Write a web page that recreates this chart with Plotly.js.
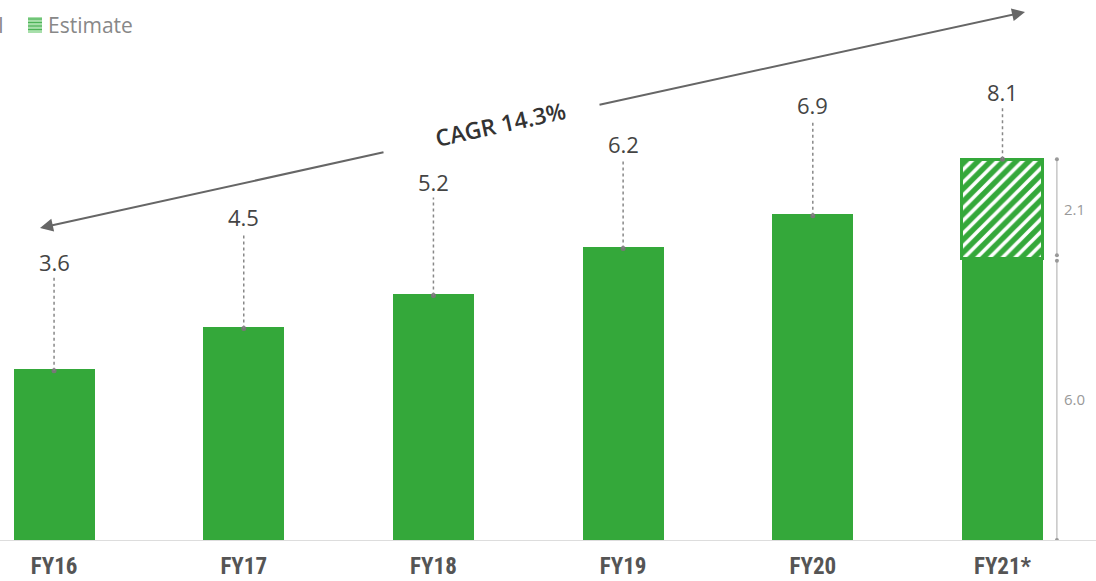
<!DOCTYPE html>
<html><head><meta charset="utf-8">
<script src="https://cdn.plot.ly/plotly-3.0.1.min.js"></script>
<style>html,body{margin:0;padding:0;background:#fff}#c{width:1096px;height:581px}</style>
</head><body><div id="c"></div>
<script>
const categories = ["FY16","FY17","FY18","FY19","FY20","FY21*"];
const totals = [3.6, 4.5, 5.2, 6.2, 6.9, 8.1];
const actual = [3.6, 4.5, 5.2, 6.2, 6.9, 6.0];
const estimate = [0, 0, 0, 0, 0, 2.1];
const cagrText = "CAGR 14.3%";

const GREEN = "#34a83a";
const xs = categories.map((c,i)=>i);
// label offset above the bar top, in pixels (layout only)
const labelOffsetPx = [109,112,114,105,111,67];
const bracketX = 5.287;

const traces = [
  {type:"bar", x:xs, y:actual, width:0.427, marker:{color:GREEN, line:{width:0}}, name:"Actual", showlegend:false, hoverinfo:"skip"},
  {type:"bar", x:xs, y:estimate, width:0.427, name:"Estimate", showlegend:false, hoverinfo:"skip",
   marker:{color:GREEN, line:{color:GREEN, width:3},
     pattern:{shape:"/", fillmode:"replace", bgcolor:GREEN, fgcolor:"#ffffff", size:9, solidity:0.4}}},
  {type:"scatter", mode:"markers", x:xs, y:totals, marker:{color:"#777", size:5}, showlegend:false, hoverinfo:"skip"},
  // right bracket
  {type:"scatter", mode:"lines+markers", x:[bracketX,bracketX], y:[0, actual[5]-0.06], line:{color:"#aaa", width:1}, marker:{color:"#999", size:4}, showlegend:false, hoverinfo:"skip"},
  {type:"scatter", mode:"lines+markers", x:[bracketX,bracketX], y:[actual[5]+0.06, totals[5]], line:{color:"#aaa", width:1}, marker:{color:"#999", size:4}, showlegend:false, hoverinfo:"skip"}
];

const shapes = [];
const annotations = [];
totals.forEach((v,i)=>{
  shapes.push({type:"line", xref:"x", yref:"y", ysizemode:"pixel", yanchor:v, x0:i, x1:i, y0:0, y1:labelOffsetPx[i]-16,
    line:{color:"#888", width:1.5, dash:"dot"}});
  annotations.push({x:i, y:v, xref:"x", yref:"y", yshift:labelOffsetPx[i], text:v.toFixed(1), showarrow:false,
    font:{family:"Open Sans, sans-serif", size:22, color:"#444"}, xanchor:"center", yanchor:"middle"});
});
// bracket labels
annotations.push({x:bracketX, y:actual[5]+estimate[5]/2, xref:"x", yref:"y", xshift:18, text:estimate[5].toFixed(1), showarrow:false,
  xanchor:"center", yanchor:"middle", font:{family:"Open Sans, sans-serif", size:15, color:"#999"}});
annotations.push({x:bracketX, y:actual[5]/2, xref:"x", yref:"y", xshift:18, text:actual[5].toFixed(1), showarrow:false,
  xanchor:"center", yanchor:"middle", font:{family:"Open Sans, sans-serif", size:15, color:"#999"}});
// CAGR arrows
annotations.push({xref:"paper", yref:"paper", x:40/1096, y:1-228/540, ax:345, ay:-76, text:"", showarrow:true,
  arrowhead:2, arrowsize:1.3, arrowwidth:2, arrowcolor:"#666"});
annotations.push({xref:"paper", yref:"paper", x:1025/1096, y:1-12/540, ax:-427, ay:93, text:"", showarrow:true,
  arrowhead:2, arrowsize:1.3, arrowwidth:2, arrowcolor:"#666"});
annotations.push({xref:"paper", yref:"paper", x:500/1096, y:1-124/540, xanchor:"center", yanchor:"middle",
  text:cagrText, showarrow:false, textangle:-12.4,
  font:{family:"Open Sans, sans-serif", size:23, color:"#333", weight:600}});
// legend
annotations.push({xref:"paper", yref:"paper", x:6/1096, y:1-25/540, xanchor:"right", yanchor:"middle", text:"Actual", showarrow:false,
  font:{family:"Open Sans, sans-serif", size:21, color:"#888"}});
annotations.push({xref:"paper", yref:"paper", x:46/1096, y:1-25/540, xanchor:"left", yanchor:"middle", text:"Estimate", showarrow:false,
  font:{family:"Open Sans, sans-serif", size:21, color:"#888"}});
shapes.push({type:"rect", xref:"paper", yref:"paper", x0:28/1096, x1:42/1096, y0:1-33/540, y1:1-17/540, fillcolor:"#a8dfab", line:{width:0}});
[19,22.5,26,29.5].forEach(py=>shapes.push({type:"line", xref:"paper", yref:"paper", x0:28/1096, x1:42/1096, y0:1-py/540, y1:1-py/540, line:{color:"#4cb257", width:1.2}}));

const layout = {
  width:1096, height:581, margin:{l:0,r:0,t:0,b:41},
  paper_bgcolor:"#fff", plot_bgcolor:"#fff",
  barmode:"stack", showlegend:false,
  xaxis:{range:[-0.285,5.493], tickvals:xs, ticktext:categories, showgrid:false, zeroline:false,
    showline:true, linecolor:"#ddd", linewidth:1, ticks:"outside", ticklen:5, tickcolor:"rgba(0,0,0,0)",
    tickfont:{family:"Liberation Sans Narrow, Roboto Condensed, Arial Narrow, sans-serif", size:23, color:"#555", weight:"bold"}},
  yaxis:{range:[0, 540/47], visible:false, showgrid:false, zeroline:false},
  shapes:shapes, annotations:annotations
};
Plotly.newPlot("c", traces, layout, {staticPlot:true});
</script></body></html>
